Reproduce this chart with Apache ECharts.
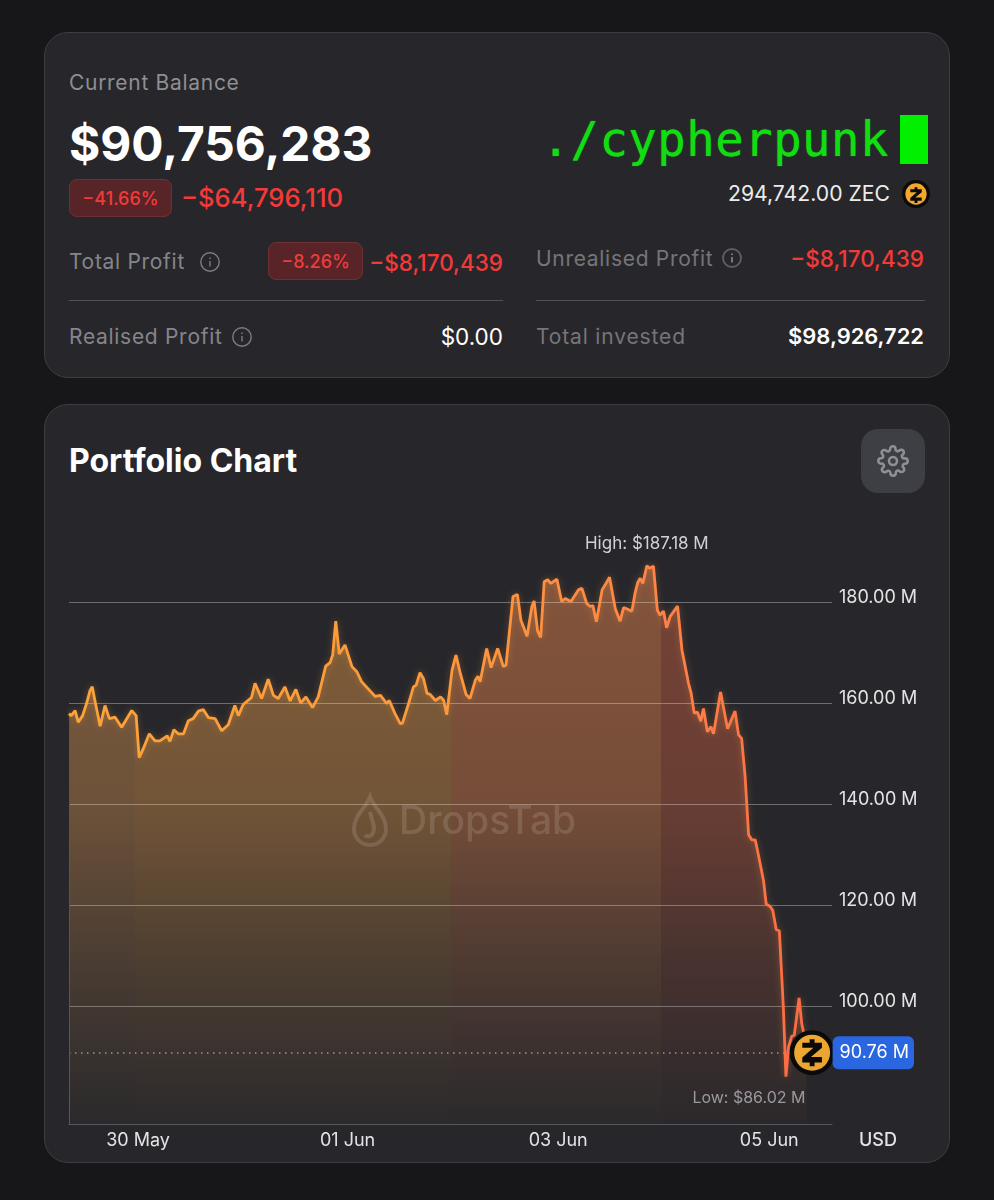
<!DOCTYPE html>
<html><head><meta charset="utf-8">
<script src="https://cdn.jsdelivr.net/npm/echarts@6/dist/echarts.min.js"></script>
<style>
html,body{margin:0;padding:0;background:#17171a;width:994px;height:1200px;overflow:hidden;font-family:Inter,"Noto Sans",sans-serif}
.card{position:absolute;left:44px;width:904px;background:#27272b;border:1px solid #3c3d41;border-radius:24px}
.t{position:absolute;white-space:nowrap;transform:translateY(-50%);line-height:1.2}
.lab{color:#85858a;font-size:21px;letter-spacing:.7px}
.red{color:#f23a3a}
.pill{position:absolute;background:#592427;border:1px solid #6e3133;border-radius:8px;box-sizing:border-box;color:#f03b3b;font-size:18px;font-weight:500;display:flex;align-items:center;justify-content:center}
.rule{position:absolute;height:1px;background:#505155;top:300px}
svg{position:absolute;overflow:visible}
</style></head>
<body>
<div class="card" style="top:32px;height:344px"></div>
<div class="card" style="top:404px;height:757px"></div>

<div class="t lab" style="left:69px;top:83px;color:#8e8e93">Current Balance</div>
<div class="t" style="left:69px;top:145px;color:#fff;font-size:47.8px;font-weight:700">$90,756,283</div>
<div class="pill" style="left:69px;top:179px;width:103px;height:38px">−41.66%</div>
<div class="t red" style="left:181px;top:198px;font-size:25.6px;font-weight:500">−$64,796,110</div>

<div class="t" style="right:105px;top:140px;color:#12dc12;font-family:'DejaVu Sans Mono',monospace;font-size:47.2px;letter-spacing:.55px;text-shadow:0 0 1px #12dc12">./cypherpunk</div>
<div style="position:absolute;left:900px;top:115px;width:28px;height:49px;background:#00f000"></div>
<div class="t" style="right:104px;top:194px;color:#ececec;font-size:21.2px">294,742.00 ZEC</div>
<svg style="left:902px;top:180px" width="28" height="28" viewBox="0 0 100 100"><circle cx="50" cy="50" r="50" fill="#0b0b0b"/><circle cx="50" cy="50" r="38" fill="#f4a72c"/><path transform="translate(18 18) scale(.64)" d="M42 12h16v12h24v16L46 70h36v18H58v12H42V88H18V72L54 40H18V24h24z" fill="#0b0b0b"/></svg>

<div class="t lab" style="left:69px;top:262px">Total Profit</div>
<svg style="left:200px;top:252px" width="20" height="20" viewBox="0 0 20 20"><circle cx="10" cy="10" r="9.2" fill="none" stroke="#7d7d82" stroke-width="1.4"/><path d="M10 9v5.5M10 5.6v1.4" stroke="#7d7d82" stroke-width="1.4"/></svg>
<div class="pill" style="left:268px;top:242px;width:95px;height:38px">−8.26%</div>
<div class="t red" style="right:491px;top:262px;font-size:22.5px;font-weight:500">−$8,170,439</div>
<div class="rule" style="left:69px;width:434px"></div>
<div class="t lab" style="left:69px;top:337px">Realised Profit</div>
<svg style="left:232px;top:327px" width="20" height="20" viewBox="0 0 20 20"><circle cx="10" cy="10" r="9.2" fill="none" stroke="#7d7d82" stroke-width="1.4"/><path d="M10 9v5.5M10 5.6v1.4" stroke="#7d7d82" stroke-width="1.4"/></svg>
<div class="t" style="right:491px;top:336px;color:#fff;font-size:22.5px;font-weight:400">$0.00</div>

<div class="t lab" style="left:536px;top:259px;color:#75757a">Unrealised Profit</div>
<svg style="left:722px;top:248px" width="20" height="20" viewBox="0 0 20 20"><circle cx="10" cy="10" r="9" fill="none" stroke="#5c5d62" stroke-width="2"/><path d="M10 9v5.5M10 5.6v1.4" stroke="#77787c" stroke-width="2"/></svg>
<div class="t red" style="right:70px;top:258px;font-size:22.5px;font-weight:500">−$8,170,439</div>
<div class="rule" style="left:536px;width:389px"></div>
<div class="t lab" style="left:536px;top:337px;color:#75757a;letter-spacing:.85px">Total invested</div>
<div class="t" style="right:70px;top:336px;color:#fff;font-size:21.9px;font-weight:600">$98,926,722</div>

<div class="t" style="left:69px;top:461px;color:#fff;font-size:32px;font-weight:700">Portfolio Chart</div>
<div style="position:absolute;left:861px;top:429px;width:64px;height:64px;border-radius:17px;background:#3e3f45"></div>
<svg style="left:877px;top:445px" width="32" height="32" viewBox="0 0 24 24" fill="none" stroke="#8f9096" stroke-width="1.9" stroke-linejoin="round"><circle cx="12" cy="12" r="3"/><path d="M19.4 15a1.65 1.65 0 0 0 .33 1.82l.06.06a2 2 0 1 1-2.83 2.83l-.06-.06a1.65 1.65 0 0 0-2.82 1.17V21a2 2 0 1 1-4 0v-.09a1.65 1.65 0 0 0-2.82-1.11l-.06.06a2 2 0 1 1-2.83-2.83l.06-.06A1.65 1.65 0 0 0 3.09 14H3a2 2 0 1 1 0-4h.09A1.65 1.65 0 0 0 4.2 7.18l-.06-.06a2 2 0 1 1 2.83-2.83l.06.06A1.65 1.65 0 0 0 9.85 3.18V3a2 2 0 1 1 4 0v.09a1.65 1.65 0 0 0 2.82 1.11l.06-.06a2 2 0 1 1 2.83 2.83l-.06.06A1.65 1.65 0 0 0 20.91 10H21a2 2 0 1 1 0 4h-.09a1.65 1.65 0 0 0-1.51 1z"/></svg>

<div id="chart" style="position:absolute;left:0;top:0;width:994px;height:1200px"></div>
<svg style="left:0;top:0;pointer-events:none" width="994" height="1200" viewBox="0 0 994 1200" fill="none" stroke="rgba(255,255,255,.13)" stroke-width="4"><path d="M370 797C366 808 354 815 354 829A16 16 0 0 0 386 829C386 815 374 808 370 797ZM370 812C372 822 376 826 373 833C371 837 367 837 365 835"/></svg>
<script>
const hoursSinceStart = [0,0.5,1.4,2.1,3.1,4,4.8,5.3,5.9,7.1,8.2,9.2,10.5,12,14.3,15.3,16,16.9,18.3,19.6,20.7,22.4,23,23.9,24.9,26.1,27.2,28.3,29.5,30.6,31.8,33.3,34.8,36.3,37.8,38.6,39.7,41.6,42.4,43.9,45.4,46.6,47.7,49.2,50.4,51.7,52.8,54,55.5,56.8,58.5,59.5,60.1,60.8,61.6,62.9,64.5,65.6,66.7,68.3,69.8,71,72.4,73,74.3,75.5,76,77.4,78.5,79.1,80,80.8,81.6,82.3,83.5,84.7,85.4,86.1,87.3,88.2,89.2,90.5,91.4,92.6,93.2,93.7,95.2,96.2,97.7,99,99.6,101.2,102.2,103,104.4,105.5,106,106.8,107.5,108.3,109.1,109.8,111.2,112.3,113.1,114.4,116.1,116.9,118,118.8,119.4,120.2,121.5,122.2,123.2,124.5,125.6,126.4,128.3,129,129.6,130.2,130.8,131.7,132.3,133.2,134.1,134.7,135.5,136.2,137,138.7,139.7,141.2,141.8,142.5,143.2,144,144.6,145.5,146.3,146.9,148.5,150.1,151.8,152.6,153.3,154.1,154.9,155.6,156.4,156.9,158.3,158.9,159.8,160.4,161.2,161.9,162.8,163.4,164,164.7,165.3,166.4,167,167.8,168];
const portfolioValues = [157.9,157.5,158.5,156.2,157.5,159.9,162.5,163.2,160.5,155.4,159.5,156.9,157.2,155.2,158.5,157.5,149.2,150.9,153.9,152.5,152.5,153.5,152.4,154.7,153.9,153.9,156.5,156.9,158.4,158.7,157.1,156.9,154.5,155.7,159.5,157.5,159.7,161.1,163.9,160.9,164.7,161.5,160.9,163.2,160.4,162.7,160,161.2,159.1,161.2,167.3,168,169.5,176.2,169.7,171.5,167.2,166.2,164.2,162.7,161.3,161.5,159.9,160.5,157.9,155.9,156,159.9,163.2,163.5,166,164.8,161.9,161.7,160.5,161.2,160.5,157.7,166.5,169.5,165.8,161.7,160.9,164.5,165.3,164.2,170.8,167,170.8,167.2,167.5,181.1,181.5,176.4,173.2,179.1,180.2,174.3,173,184,184.4,183.7,184.5,180.1,180.7,180.1,182.4,182.7,179.7,179.1,179.3,176.1,182.4,183.4,184.9,178.7,176.2,178.9,178.2,181.7,183.8,184.7,183.7,187.18,186.7,187.1,178.4,177.4,178.2,174.9,177.1,179.2,170.5,163.9,161.9,158,158.2,156.4,158.9,154.3,155.3,153.9,162.2,154.9,158.4,153.7,153,145.4,133.9,132.9,132.9,130.9,124.8,120.2,119.7,118.9,115.1,114.9,100,86.02,91.9,94,94.2,101.6,96.5,93.2,90.76];
const yTickValues = [100,120,140,160,180];
const xTickHours = [15.75,63.5,111.5,159.6];
const xTickLabels = ['30 May','01 Jun','03 Jun','05 Jun'];
const currencyLabel = 'USD';
const watermark = 'DropsTab';

const points = hoursSinceStart.map((h,i)=>[h,portfolioValues[i]]);
const last = points[points.length-1];
const high = points.reduce((a,b)=>b[1]>a[1]?b:a);
const low = points.reduce((a,b)=>b[1]<a[1]?b:a);
const yMin = 76.63, yMax = 196.24, xMax = 173.9;
const ZPATH = 'path://M42 12h16v12h24v16L46 70h36v18H58v12H42V88H18V72L54 40H18V24h24z';
const FONT = 'Inter';
const bands = [[0,'#7a5a3c'],[.0896,'#7a5a3c'],[.0896,'#805d39'],[.518,'#805d39'],[.518,'#84543b'],[.803,'#84543b'],[.803,'#754235'],[1,'#754235']];
const chart = echarts.init(document.getElementById('chart'),null,{renderer:'canvas'});
chart.setOption({
  animation:false,
  backgroundColor:'transparent',
  grid:{left:69,right:162,top:520,height:604,containLabel:false},
  xAxis:{type:'value',min:0,max:xMax,z:5,
    axisLine:{show:true,lineStyle:{color:'#56575b',width:1}},
    axisTick:{show:false},splitLine:{show:false},
    axisLabel:{customValues:xTickHours,margin:8,color:'#e4e4e6',fontFamily:FONT,fontSize:18,
      formatter:v=>xTickLabels[xTickHours.indexOf(v)]||''}},
  yAxis:{type:'value',position:'right',min:yMin,max:yMax,z:5,
    axisLine:{show:false},
    axisTick:{show:false,customValues:yTickValues},
    splitLine:{show:true,lineStyle:{color:'rgba(255,255,255,.32)',width:1}},
    axisLabel:{customValues:yTickValues,margin:7,color:'#e4e4e6',fontFamily:FONT,fontSize:18,verticalAlign:'bottom',lineHeight:8,
      formatter:v=>v.toFixed(2)+' M'}},
  graphic:[
    {type:'text',z:20,silent:true,x:399,y:803,style:{text:watermark,fill:'rgba(255,255,255,.13)',font:'500 39px Inter'}},
    {type:'text',z:20,silent:true,x:859,y:1132,style:{text:currencyLabel,fill:'#e4e4e6',font:'500 18px Inter'}}
  ],
  series:[
    {type:'line',data:points,showSymbol:false,silent:true,z:2,lineStyle:{width:0},
     areaStyle:{opacity:1,color:new echarts.graphic.LinearGradient(0,0,1,0,bands.map(b=>({offset:b[0],color:b[1]})))}},
    {type:'line',data:points,showSymbol:false,silent:true,z:3,lineStyle:{width:0},
     areaStyle:{opacity:1,color:new echarts.graphic.LinearGradient(0,0,0,1,[{offset:0,color:'rgba(39,39,43,0)'},{offset:.42,color:'rgba(39,39,43,.15)'},{offset:.74,color:'rgba(39,39,43,.62)'},{offset:1,color:'rgba(39,39,43,.95)'}])}},
    {type:'line',data:points,showSymbol:false,silent:true,z:8,
     lineStyle:{width:2.8,shadowBlur:6,shadowColor:'rgba(255,150,60,.35)',
       color:new echarts.graphic.LinearGradient(0,0,1,0,[{offset:0,color:'#fba43a'},{offset:.5,color:'#fb9a3c'},{offset:.8,color:'#ff8448'},{offset:1,color:'#fb6a45'}])},
     markLine:{silent:true,symbol:'none',animation:false,label:{show:false},
       data:[
         [{coord:[0,last[1]],lineStyle:{color:'rgba(215,220,230,.6)',type:[1.5,4.5],width:1.5}},{coord:[last[0],last[1]]}],
         [{coord:[0,yMin],lineStyle:{color:'#56575b',type:'solid',width:1}},{coord:[0,points[0][1]]}]
       ]},
     markPoint:{silent:true,symbol:'circle',symbolSize:0,animation:false,
       data:[
         {coord:high,label:{show:true,position:'top',distance:0,offset:[0,-13],formatter:'High: $'+high[1].toFixed(2)+' M',color:'#d2d2d6',fontFamily:FONT,fontSize:17}},
         {coord:low,label:{show:true,position:'top',distance:0,offset:[-37,30],formatter:'Low: $'+low[1].toFixed(2)+' M',color:'#9a9a9e',fontFamily:FONT,fontSize:16}}
       ]}},
    {type:'scatter',data:[last],silent:true,z:10,symbol:'circle',symbolSize:45,symbolOffset:[6,0],itemStyle:{color:'#0a0a0a',opacity:1},
     label:{show:true,position:'right',distance:0,offset:[-2,0],formatter:()=>last[1].toFixed(2)+' M',color:'#fff',fontFamily:FONT,fontSize:18,backgroundColor:'#2a66e0',borderRadius:6,padding:[8,5,7,7]}},
    {type:'scatter',data:[last],silent:true,z:11,symbol:'circle',symbolSize:36,symbolOffset:[6,0],
     itemStyle:{opacity:1,color:new echarts.graphic.LinearGradient(0,0,1,1,[{offset:0,color:'#f0ab35'},{offset:1,color:'#e7a32e'}])}},
    {type:'scatter',data:[last],silent:true,z:12,symbol:ZPATH,symbolKeepAspect:true,symbolSize:27,symbolOffset:[6,0],itemStyle:{color:'#0a0a0a',opacity:1}}
  ]
});
</script>
</body></html>
